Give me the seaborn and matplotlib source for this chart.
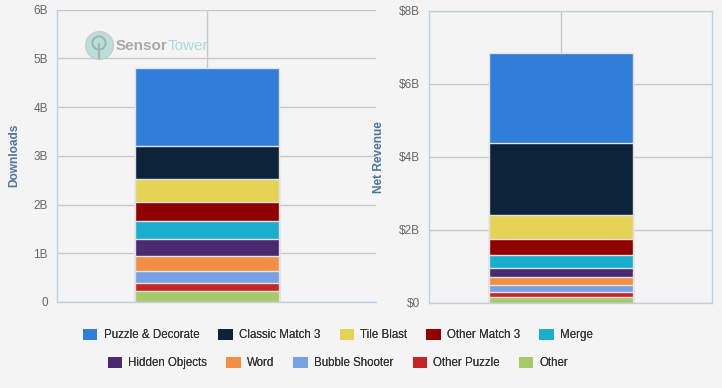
import numpy as np
import pandas as pd
import matplotlib
matplotlib.use('Agg')
import matplotlib.pyplot as plt
from matplotlib.patches import Patch
import seaborn as sns

# Data (billions), listed top of stack first
categories = ['Puzzle & Decorate', 'Classic Match 3', 'Tile Blast', 'Other Match 3',
              'Merge', 'Hidden Objects', 'Word', 'Bubble Shooter', 'Other Puzzle', 'Other']
downloads = [1.59, 0.68, 0.47, 0.39, 0.37, 0.35, 0.31, 0.25, 0.16, 0.22]
revenue = [2.46, 1.96, 0.66, 0.44, 0.35, 0.25, 0.22, 0.19, 0.14, 0.16]
colors = ['#2f7ed8', '#0d233a', '#e4d354', '#910000', '#1aadce',
          '#492970', '#f28f43', '#77a1e5', '#c42525', '#a6c96a']

dl_ticks = [0, 1, 2, 3, 4, 5, 6]
dl_labels = ['0', '1B', '2B', '3B', '4B', '5B', '6B']
rev_ticks = [0, 2, 4, 6, 8]
rev_labels = ['$0', '$2B', '$4B', '$6B', '$8B']

bg = '#f4f4f4'
grid_col = '#c8c8c8'
axis_col = '#c0d0e0'
title_col = '#4d759e'

sns.set_theme(style='whitegrid')
plt.rcParams['font.family'] = ['Liberation Sans', 'DejaVu Sans']


def stacked(values):
    # cumulative heights from the bottom of the stack, drawn biggest first
    cum = np.cumsum(values[::-1])[::-1]
    return pd.DataFrame({'group': ['all'] * len(categories),
                         'category': categories,
                         'cum': cum})


fig = plt.figure(figsize=(7.22, 3.88), dpi=100, facecolor=bg)
ax1 = fig.add_axes([57 / 722, 1 - 302 / 388, 319 / 722, 292.5 / 388])
ax2 = fig.add_axes([429 / 722, 1 - 303 / 388, 283 / 722, 292.5 / 388])

panels = [
    (ax1, downloads, dl_ticks, dl_labels, 'Downloads', (-0.833, 0.939), -0.116),
    (ax2, revenue, rev_ticks, rev_labels, 'Net Revenue', (-0.733, 0.839), -0.155),
]

for ax, vals, ticks, labels, ylab, xl, labx in panels:
    ax.set_facecolor(bg)
    sns.barplot(data=stacked(vals), x='group', y='cum', hue='category',
                hue_order=categories, palette=colors, dodge=False, width=0.8,
                saturation=1, edgecolor='#e2e2e2', linewidth=1, legend=False,
                ax=ax, zorder=2)
    ax.set_xlim(*xl)
    ax.set_ylim(ticks[0], ticks[-1])
    ax.set_yticks(ticks)
    ax.set_yticklabels(labels)
    ax.set_xticks([])
    ax.set_xlabel('')
    ax.set_ylabel(ylab, fontsize=8.6, fontweight='bold', color=title_col)
    ax.yaxis.set_label_coords(labx, 0.5)
    ax.tick_params(axis='y', length=0, pad=6.5, labelsize=8.5, labelcolor='#666666')
    ax.yaxis.grid(True, color=grid_col, linewidth=1)
    ax.xaxis.grid(False)
    ax.axvline(0, color=grid_col, linewidth=1, zorder=0.5)
    ax.set_axisbelow(True)
    for s in ax.spines.values():
        s.set_color(axis_col)
        s.set_linewidth(1)

ax1.spines['top'].set_visible(False)
ax1.spines['right'].set_visible(False)

# SensorTower watermark
ax1.scatter([99 / 722], [1 - 45 / 388], s=400, color='#b3ddd8', alpha=0.9,
            transform=fig.transFigure, zorder=1, edgecolors='#c9c9c9', linewidths=1)
ax1.scatter([99 / 722], [1 - 43 / 388], s=90, facecolors='none', edgecolors='#9fb5b2',
            linewidths=1.5, transform=fig.transFigure, zorder=1)
ax1.plot([99 / 722, 99 / 722], [1 - 44 / 388, 1 - 58 / 388], color='#9fb5b2',
         linewidth=1.5, transform=fig.transFigure, zorder=1)
t1 = fig.text(116 / 722, 1 - 46 / 388, 'Sensor', fontsize=11, fontweight='bold',
              color='#a9a9a9', va='center', ha='left')
fig.canvas.draw()
bb = t1.get_window_extent()
fig.text(bb.x1 / 722, 1 - 46 / 388, 'Tower', fontsize=11,
         color='#a8dcd6', va='center', ha='left')

# two centered legend rows
handles = [Patch(facecolor=c, edgecolor='none') for c in colors]
rows = [(0, 5, 1 - 335 / 388), (5, 10, 1 - 363 / 388)]
for a, b, y in rows:
    leg = fig.legend(handles[a:b], categories[a:b], loc='center', ncol=5,
                     bbox_to_anchor=(338 / 722, y), frameon=False, fontsize=8.3,
                     handlelength=1.25, handleheight=1.05, handletextpad=0.55,
                     columnspacing=1.65, labelcolor='#333333')
    fig.add_artist(leg)

fig.savefig('out.png', dpi=100, facecolor=bg)
